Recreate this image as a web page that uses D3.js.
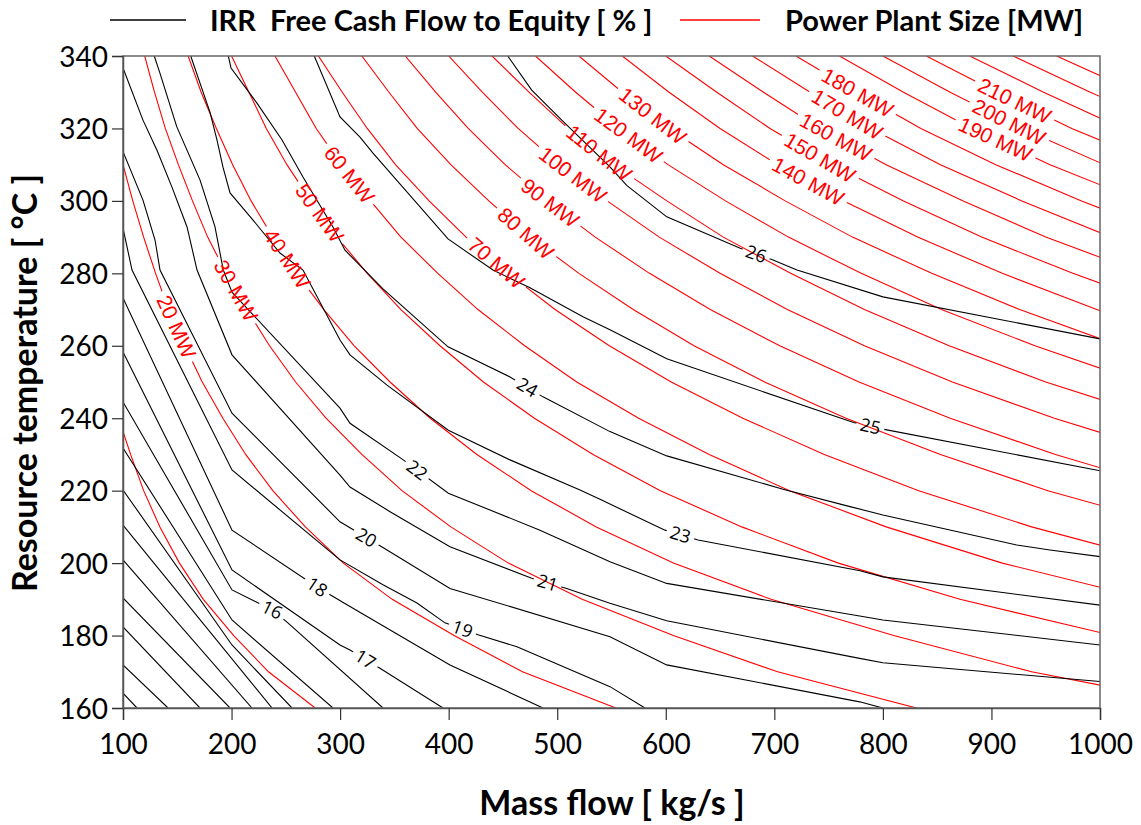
<!DOCTYPE html>
<html><head><meta charset="utf-8">
<script src="https://cdn.jsdelivr.net/npm/d3@7"></script>
<style>
body{margin:0;background:#fff}
text{font-family:Lato,'Open Sans',sans-serif}
</style>
</head><body>
<svg id="c" width="1141" height="825"></svg>
<script>
// ---------- DATA ----------
const xTicks = [100,200,300,400,500,600,700,800,900,1000];
const yTicks = [160,180,200,220,240,260,280,300,320,340];

// Power plant size contours: mass flow [kg/s] at each temperature of redTemps
const redTemps = [160,170,180,190,200,210,220,230,240,250,260,270,280,290,300,310,320,330,340];
const redLevels = [10,20,30,40,50,60,70,80,90,100,110,120,130,140,150,160,170,180,190,200,210,220,230,240,250];
const redFlows = [
 [277,234,202,174,152,134,119,107,96,86,null,null,null,null,null,null,null,null,null],
 [554,468,405,348,303,268,238,213,192,173,157,142,130,119,109,100,93,86,null],
 [831,703,607,523,455,402,357,320,287,259,235,214,195,178,164,151,139,129,120],
 [1108,937,810,697,607,536,476,426,383,346,313,285,260,238,218,201,186,172,160],
 [1385,1171,1012,871,759,670,595,533,479,432,392,356,325,297,273,251,232,216,200],
 [null,1405,1214,1045,910,803,714,640,575,518,470,427,390,356,328,301,278,259,240],
 [null,null,1417,1219,1062,937,833,746,671,605,548,498,455,416,382,351,325,302,280],
 [null,null,null,1394,1214,1071,952,853,766,691,626,570,520,475,437,402,371,345,320],
 [null,null,null,null,1365,1205,1071,959,862,778,705,641,585,535,491,452,418,388,360],
 [null,null,null,null,null,1339,1190,1066,958,864,783,712,650,594,546,502,464,431,400],
 [null,null,null,null,null,null,1309,1173,1054,950,861,783,715,653,601,552,510,474,440],
 [null,null,null,null,null,null,null,1279,1150,1037,940,854,780,713,655,602,557,517,480],
 [null,null,null,null,null,null,null,null,1245,1123,1018,926,845,772,710,653,603,560,520],
 [null,null,null,null,null,null,null,null,null,1210,1096,997,910,832,764,703,650,603,560],
 [null,null,null,null,null,null,null,null,null,1296,1175,1068,975,891,819,753,696,647,600],
 [null,null,null,null,null,null,null,null,null,null,1253,1139,1040,950,874,803,742,690,640],
 [null,null,null,null,null,null,null,null,null,null,null,1210,1105,1010,928,853,789,733,680],
 [null,null,null,null,null,null,null,null,null,null,null,1282,1170,1069,983,904,835,776,720],
 [null,null,null,null,null,null,null,null,null,null,null,null,1235,1129,1037,954,882,819,760],
 [null,null,null,null,null,null,null,null,null,null,null,null,1300,1188,1092,1004,928,862,800],
 [null,null,null,null,null,null,null,null,null,null,null,null,null,1247,1147,1054,974,905,840],
 [null,null,null,null,null,null,null,null,null,null,null,null,null,1307,1201,1104,1021,948,880],
 [null,null,null,null,null,null,null,null,null,null,null,null,null,null,1256,1155,1067,991,920],
 [null,null,null,null,null,null,null,null,null,null,null,null,null,null,1310,1205,1114,1034,960],
 [null,null,null,null,null,null,null,null,null,null,null,null,null,null,null,1255,1160,1078,1000]
];
// label anchors [mass flow, temperature]
const redLabelLevels = [20,30,40,50,60,70,80,90,100,110,120,130,140,150,160,170,180,190,200,210];
const redLabelPos = [[152.5,265.7],[205,275.4],[252,284.2],[281.5,296.7],[309.1,307.4],[444.5,283.1],[472.1,291.4],[493.3,299.4],[516.4,308],[539.4,313.5],[567,318.7],[590,324.3],[732.8,306.3],[743.9,312.9],[758.6,318.7],[767.8,324.3],[777,330.1],[903.3,316.8],[917.1,322.3],[921.7,327.9]];

// IRR free cash flow to equity contours: [mass flow, temperature] points
const irrLevels = [8,9,10,11,12,13,14,15,16,17,18,19,20,21,22,23,24,25,26];
const irrLines = [
 [[100,164.1],[112.9,160]],
 [[100,171.9],[141.5,160]],
 [[100,182.4],[170.9,160]],
 [[100,190.4],[198.6,160]],
 [[100,200.9],[218.8,160]],
 [[100,210.5],[237.3,160]],
 [[100,220.2],[200.4,177.4],[255.7,160]],
 [[100,231.8],[200.4,184.3],[293.4,160]],
 [[100,244.5],[200.4,192.6],[237.3,187.1],[251.1,183.7],[339.5,160]],
 [[100,258.3],[200.4,198.1],[299.9,177.4],[309.1,176],[336.7,171],[394.8,160]],
 [[100,273.2],[200.4,209.1],[278.7,193.4],[309.1,188],[401.2,171.9],[486.9,160]],
 [[100,292.5],[108.3,280.9],[200.4,225.7],[299.9,200.9],[339.5,194],[370.8,189],[396.6,183.5],[427,180.2],[462.9,176.9],[548.6,165.9],[580.8,160]],
 [[100,313.6],[118.4,300.2],[129.5,289.2],[134.1,280.9],[200.4,241.4],[299.9,211.4],[338.3,204.5],[401.2,193],[548.6,179.7],[600.8,171.9],[778.6,161.7],[800,160]],
 [[100,336.7],[118.4,322.3],[131.3,314],[145.1,303.8],[159,292.8],[168.2,280.9],[200.4,257.5],[299.9,224.3],[309.1,221],[346,214.2],[401.2,204.5],[476.5,195.8],[508.7,193],[548.6,188.9],[600.8,184.1],[778.6,173.7],[800,172.5],[1000,167.3]],
 [[128.8,340],[134.1,335.2],[149.5,320.5],[170.9,305.8],[184.7,292.9],[192.4,280.9],[200.4,274.8],[299.9,242.8],[309.1,238.6],[358.2,228.5],[399.7,219.3],[484.1,209.1],[548.6,200.4],[600.8,194.4],[778.6,185.4],[800,184.3],[1000,177.4]],
 [[162.4,340],[180.1,324.5],[186.6,316.8],[192.1,309.3],[198.6,302.2],[219.8,294.7],[244.6,285.6],[265.8,280.9],[299.9,261.6],[309.1,257.5],[342.9,249.2],[399.7,236.7],[456.5,228.5],[521,220.2],[539.4,217.6],[599.3,209.1],[629.7,206.4],[778.9,197.9],[800,196.2],[1000,188.4]],
 [[197,340],[199.5,336.7],[223.4,327],[246.5,316.8],[265.8,306.6],[293.4,292.8],[304.5,286.4],[339.5,275.7],[399.4,259.7],[456.5,251.4],[486.9,245.9],[548.6,236.3],[600.9,229.6],[708,220.4],[769.7,215.6],[800,213.3],[923.3,205],[954,203.6],[1000,201.8]],
 [[276.2,340],[299.9,323.2],[318.3,317.6],[330.3,313.2],[399.4,289.5],[440.8,280.9],[474.9,276],[523.7,268],[548.6,264.4],[600.9,256.4],[773,238.8],[800,237],[1000,225.5]],
 [[454.4,340],[476.5,330.6],[505.6,321.9],[548.6,309.4],[564,304.3],[600.9,295.6],[668.6,286.9],[698.8,283.7],[720.9,280.9],[800,273.5],[1000,261.9]]
];
const irrLabelLevels = [16,17,18,19,20,21,22,23,24,25,26];
const irrLabelPos = [[237.3,187.1],[322.9,173.3],[278.7,193.4],[412.3,181.5],[322.9,206.4],[490.6,194],[369,224.9],[613.1,207.5],[472.1,248.3],[788.1,237.3],[682.2,284.5]];

// ---------- CHART ----------
const W = 1141, H = 825;
const M = {l:123, r:1100, t:56, b:708};
const x = d3.scaleLinear().domain([100,1000]).range([M.l, M.r]);
const y = d3.scaleLinear().domain([160,340]).range([M.b, M.t]);
const svg = d3.select('#c');
const defs = svg.append('defs');
defs.append('clipPath').attr('id','plotclip').append('rect')
  .attr('x',M.l).attr('y',M.t).attr('width',M.r-M.l).attr('height',M.b-M.t);
const line = d3.line().x(d=>x(d[0])).y(d=>y(d[1]));

const gRed = svg.append('g').attr('clip-path','url(#plotclip)');
const gBlk = svg.append('g').attr('clip-path','url(#plotclip)');
const gLab = svg.append('g');

const redPts = redLevels.map((lv,i)=>redTemps.map((t,j)=>[redFlows[i][j],t]).filter(p=>p[0]!==null));
const redPaths = redPts.map((pts,i)=>gRed.append('path').attr('d',line(pts))
  .attr('fill','none').attr('stroke','#ff0000').attr('stroke-width',1.1));
const blkPaths = irrLines.map((pts,i)=>gBlk.append('path').attr('d',line(pts))
  .attr('fill','none').attr('stroke','#000').attr('stroke-width',1.1));

function addLabel(pts, pos, txt, color, family, size, path, id, pad){
  const pp = pts.map(p=>[x(p[0]),y(p[1])]);
  const P = [x(pos[0]), y(pos[1])];
  let best = null;
  for(let i=0;i<pp.length-1;i++){
    const a=pp[i], b=pp[i+1], dx=b[0]-a[0], dy=b[1]-a[1], L2=dx*dx+dy*dy;
    if(L2===0) continue;
    let u=((P[0]-a[0])*dx+(P[1]-a[1])*dy)/L2; u=Math.max(0,Math.min(1,u));
    const q=[a[0]+u*dx,a[1]+u*dy], d=Math.hypot(q[0]-P[0],q[1]-P[1]);
    if(!best||d<best.d) best={d,q,ang:Math.atan2(dy,dx)*180/Math.PI};
  }
  let ang = best.ang; if(ang>90) ang-=180; if(ang<-90) ang+=180;
  const tr = `translate(${best.q[0].toFixed(2)},${best.q[1].toFixed(2)}) rotate(${ang.toFixed(2)})`;
  const t = gLab.append('text').attr('transform',tr).attr('text-anchor','middle')
    .attr('dy','0.35em').attr('fill',color).style('font-family',family).style('font-size',size+'px').text(txt);
  const w = t.node().getComputedTextLength();
  const mk = defs.append('mask').attr('id',id).attr('maskUnits','userSpaceOnUse')
    .attr('x',0).attr('y',0).attr('width',W).attr('height',H);
  mk.append('rect').attr('x',0).attr('y',0).attr('width',W).attr('height',H).attr('fill','#fff');
  mk.append('rect').attr('transform',tr).attr('x',-w/2-pad).attr('y',-size*0.6).attr('width',w+2*pad).attr('height',size*1.2).attr('fill','#000');
  path.attr('mask',`url(#${id})`);
}
redLabelLevels.forEach((lv,k)=>{
  const i = redLevels.indexOf(lv);
  addLabel(redPts[i], redLabelPos[k], lv+' MW', '#ff0000', "'Liberation Sans',Arial,sans-serif", 21, redPaths[i], 'mr'+lv, 5);
});
irrLabelLevels.forEach((lv,k)=>{
  const i = irrLevels.indexOf(lv);
  addLabel(irrLines[i], irrLabelPos[k], String(lv), '#000', "'Open Sans',sans-serif", 18, blkPaths[i], 'mb'+lv, 4);
});

// frame
svg.append('rect').attr('x',M.l).attr('y',M.t).attr('width',M.r-M.l).attr('height',M.b-M.t)
  .attr('fill','none').attr('stroke','#666').attr('stroke-width',1.5);

// axes
const ax = svg.append('g').attr('transform',`translate(0,${M.b})`)
  .call(d3.axisBottom(x).tickValues(xTicks).tickSize(12).tickPadding(14).tickFormat(d3.format('d')));
const ay = svg.append('g').attr('transform',`translate(${M.l},0)`)
  .call(d3.axisLeft(y).tickValues(yTicks).tickSize(11).tickPadding(4).tickFormat(d3.format('d')));
[ax,ay].forEach(a=>{
  a.select('.domain').attr('stroke','#555').attr('stroke-width',1.5);
  a.selectAll('.tick line').attr('stroke','#333').attr('stroke-width',1.2);
  a.selectAll('.tick text').attr('fill','#000').style('font-family','Lato,sans-serif').style('font-size','28px');
});
ay.selectAll('.tick text').attr('dy','0.36em');

// axis titles
svg.append('text').attr('x',612).attr('y',815).attr('text-anchor','middle')
  .style('font-size','34px').style('font-weight','bold').text('Mass flow [ kg/s ]');
svg.append('text').attr('transform','translate(37,383) rotate(-90)').attr('text-anchor','middle')
  .style('font-size','34px').style('font-weight','bold').text('Resource temperature [ °C ]');

// legend
const lg = svg.append('g');
lg.append('line').attr('x1',110).attr('x2',186).attr('y1',20).attr('y2',20).attr('stroke','#000').attr('stroke-width',1.3);
lg.append('text').attr('x',210).attr('y',31).style('font-size','29px').style('font-weight','bold').style('white-space','pre').text('IRR  Free Cash Flow to Equity [ % ]');
lg.append('line').attr('x1',680).attr('x2',760).attr('y1',20).attr('y2',20).attr('stroke','#ff0000').attr('stroke-width',1.3);
lg.append('text').attr('x',785).attr('y',31).style('font-size','29px').style('font-weight','bold').text('Power Plant Size [MW]');
</script>
</body></html>
